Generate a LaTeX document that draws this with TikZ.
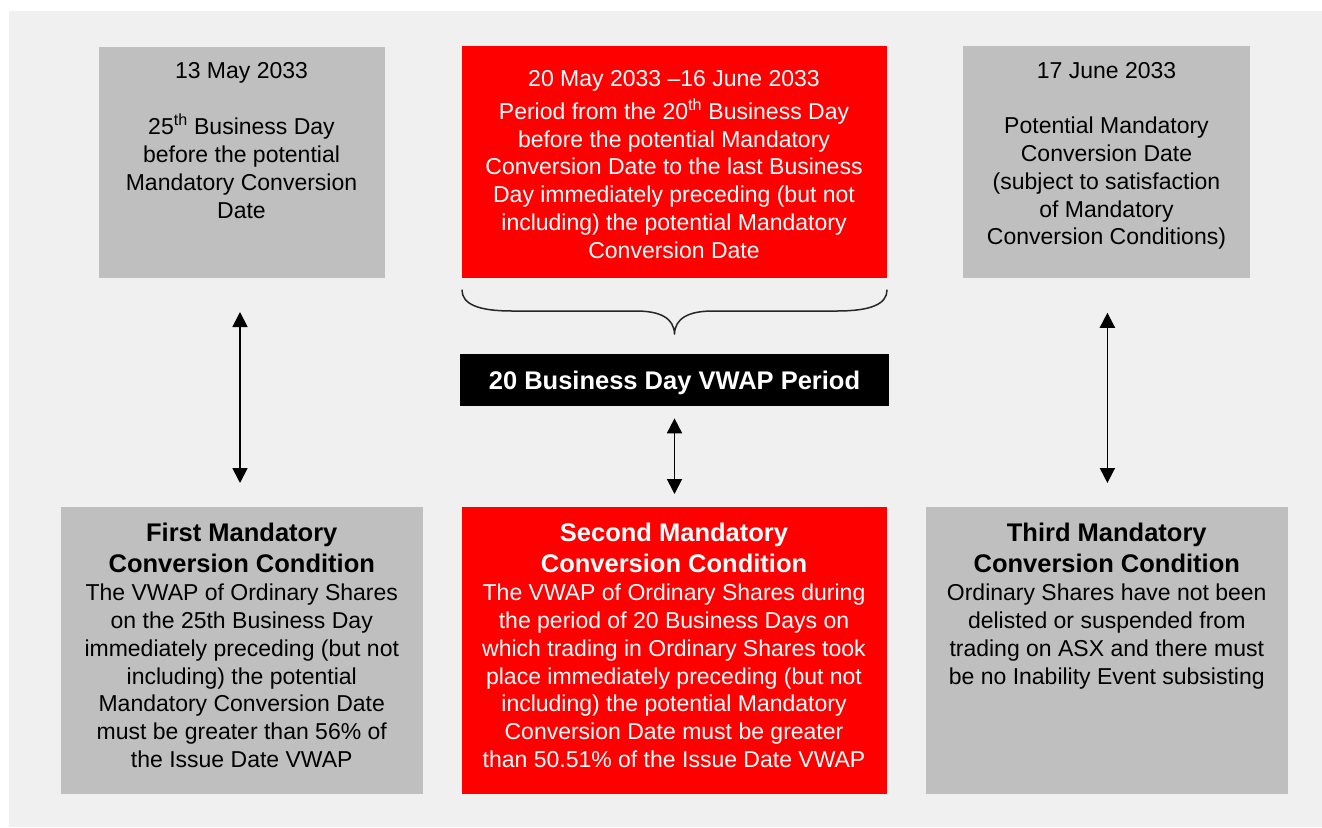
\documentclass[tikz,border=0pt]{standalone}
\usepackage{fontspec}
\setmainfont{Liberation Sans}
\usetikzlibrary{arrows.meta}
\definecolor{bggray}{HTML}{F0F0F0}
\definecolor{boxgray}{HTML}{BFBFBF}
\definecolor{boxred}{HTML}{FF0000}
\definecolor{bracegray}{HTML}{262626}
\newcommand{\condtitle}{\fontsize{25.5}{31}\selectfont\bfseries}
\newcommand{\condbody}{\fontsize{23}{27.8}\selectfont\mdseries}
\newcommand{\firststrut}{\rule{0pt}{20pt}}
\begin{document}
\begin{tikzpicture}[x=1pt,y=-1pt,
  box/.style={draw=none, inner sep=0pt, outer sep=0pt, rectangle},
  graybox/.style={box, fill=boxgray},
  redbox/.style={box, fill=boxred},
  txt/.style={inner sep=0pt, outer sep=0pt, align=center, anchor=north, font=\fontsize{23}{27.8}\selectfont},
  conn/.style={line width=1.8pt, {Triangle[width=15pt,length=15pt]}-{Triangle[width=15pt,length=15pt]}},
  bracestyle/.style={line width=1.5pt, draw=bracegray, line cap=round, line join=round},
]
\useasboundingbox (0,0) rectangle (1322,827);
\fill[white] (0,0) rectangle (1322,827);
\fill[bggray] (9,11) rectangle (1322,827);

% boxes
\node[graybox, minimum width=286pt, minimum height=231.2pt] (tl) at (241.5,162.1) {};
\node[redbox, minimum width=425pt, minimum height=232pt] (tm) at (674,162.2) {};
\node[graybox, minimum width=286.7pt, minimum height=231.7pt] (tr) at (1106.6,161.9) {};
\node[box, fill=black, minimum width=429pt, minimum height=51.7pt, text=white,
      font=\fontsize{25.5}{30}\selectfont\bfseries, text height=18.3pt, text depth=0pt] (vw) at (674.5,380.2) {20 Business Day VWAP Period};
\node[graybox, minimum width=361.5pt, minimum height=287.6pt] (bl) at (241.75,650.5) {};
\node[redbox, minimum width=425pt, minimum height=287.6pt] (bm) at (674,650.5) {};
\node[graybox, minimum width=361.5pt, minimum height=287.6pt] (br) at (1106.75,650.5) {};

% texts
\node[txt] (tlt) at (241.5,58) {\firststrut 13 May 2033\\[29pt]
  25\textsuperscript{th} Business Day\\ before the potential\\ Mandatory Conversion\\ Date};
\node[txt, text=white] (tmt) at (674,66.7) {\firststrut 20 May 2033 –16 June 2033\\[4.8pt]
  Period from the 20\textsuperscript{th} Business Day\\ before the potential Mandatory\\
  Conversion Date to the last Business\\ Day immediately preceding (but not\\
  including) the potential Mandatory\\ Conversion Date};
\node[txt] (trt) at (1106.5,58.3) {\firststrut 17 June 2033\\[27.5pt]
  Potential Mandatory\\ Conversion Date\\ (subject to satisfaction\\ of Mandatory\\ Conversion Conditions)};

\node[txt] (blt) at (241.75,521.7) {\condtitle\firststrut First Mandatory\\[3.2pt]
  \condtitle Conversion Condition\\[0.2pt]
  \condbody The VWAP of Ordinary Shares\\ on the 25th Business Day\\ immediately preceding (but not\\
  including) the potential\\ Mandatory Conversion Date\\ must be greater than 56\% of\\ the Issue Date VWAP};
\node[txt, text=white] (bmt) at (674,521.7) {\condtitle\firststrut Second Mandatory\\[3.2pt]
  \condtitle Conversion Condition\\[0.2pt]
  \condbody The VWAP of Ordinary Shares during\\ the period of 20 Business Days on\\
  which trading in Ordinary Shares took\\ place immediately preceding (but not\\
  including) the potential Mandatory\\ Conversion Date must be greater\\ than 50.51\% of the Issue Date VWAP};
\node[txt] (brt) at (1106.75,521.7) {\condtitle\firststrut Third Mandatory\\[3.2pt]
  \condtitle Conversion Condition\\[0.2pt]
  \condbody Ordinary Shares have not been\\ delisted or suspended from\\
  trading on ASX and there must\\ be no Inability Event subsisting};

% brace
\draw[bracestyle] (462,290) .. controls (462,304) and (478,311) .. (512,311) -- (636,311)
  .. controls (660,311) and (674,318) .. (674.5,334)
  .. controls (675,318) and (689,311) .. (713,311) -- (837,311)
  .. controls (871,311) and (887,304) .. (887,290);

% connectors
\draw[conn, shorten <=34.3pt, shorten >=23.7pt] ([xshift=-1.5pt]tl.south) -- ([xshift=-1.5pt]tl.south |- bl.north);
\draw[conn, shorten <=12.3pt, shorten >=12.7pt] (vw.south) -- (vw.south |- bm.north);
\draw[conn, shorten <=35pt, shorten >=23.7pt] ([xshift=0.8pt]tr.south) -- ([xshift=0.8pt]tr.south |- br.north);
\end{tikzpicture}
\end{document}
